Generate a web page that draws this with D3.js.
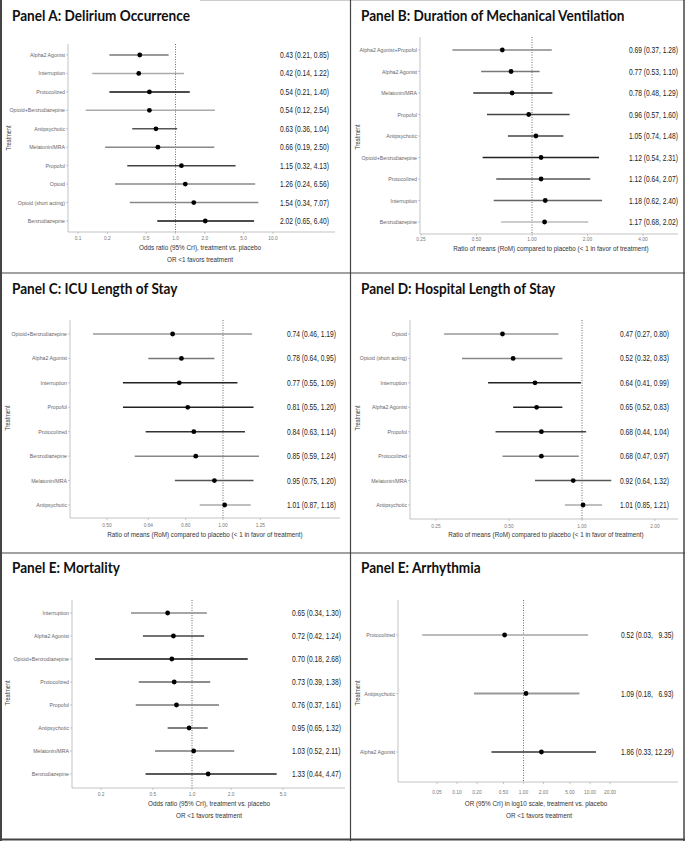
<!DOCTYPE html>
<html><head><meta charset="utf-8">
<script src="https://cdn.jsdelivr.net/npm/d3@7"></script>
<style>body{margin:0;background:#fff}svg{display:block}</style>
</head><body><svg id="c" width="685" height="841"></svg>
<script>
// ---------- DATA ----------
const treatA = ["Alpha2 Agonist","Interruption","Protocolized","Opioid+Benzodiazepine","Antipsychotic","Melatonin/MRA","Propofol","Opioid","Opioid (short acting)","Benzodiazepine"];
const estA = [0.43,0.42,0.54,0.54,0.63,0.66,1.15,1.26,1.54,2.02];
const lowA = [0.21,0.14,0.21,0.12,0.36,0.19,0.32,0.24,0.34,0.65];
const highA = [0.85,1.22,1.40,2.54,1.04,2.50,4.13,6.56,7.07,6.40];
const ticksA = [0.1,0.2,0.5,1.0,2.0,5.0,10.0];
const tickLabA = ["0.1","0.2","0.5","1.0","2.0","5.0","10.0"];

const treatB = ["Alpha2 Agonist+Propofol","Alpha2 Agonist","Melatonin/MRA","Propofol","Antipsychotic","Opioid+Benzodiazepine","Protocolized","Interruption","Benzodiazepine"];
const estB = [0.69,0.77,0.78,0.96,1.05,1.12,1.12,1.18,1.17];
const lowB = [0.37,0.53,0.48,0.57,0.74,0.54,0.64,0.62,0.68];
const highB = [1.28,1.10,1.29,1.60,1.48,2.31,2.07,2.40,2.02];
const ticksB = [0.25,0.5,1,2,4];
const tickLabB = ["0.25","0.50","1.00","2.00","4.00"];

const treatC = ["Opioid+Benzodiazepine","Alpha2 Agonist","Interruption","Propofol","Protocolized","Benzodiazepine","Melatonin/MRA","Antipsychotic"];
const estC = [0.74,0.78,0.77,0.81,0.84,0.85,0.95,1.01];
const lowC = [0.46,0.64,0.55,0.55,0.63,0.59,0.75,0.87];
const highC = [1.19,0.95,1.09,1.20,1.14,1.24,1.20,1.18];
const ticksC = [0.5,0.64,0.8,1.0,1.25];
const tickLabC = ["0.50","0.64","0.80","1.00","1.25"];

const treatD = ["Opioid","Opioid (short acting)","Interruption","Alpha2 Agonist","Propofol","Protocolized","Melatonin/MRA","Antipsychotic"];
const estD = [0.47,0.52,0.64,0.65,0.68,0.68,0.92,1.01];
const lowD = [0.27,0.32,0.41,0.52,0.44,0.47,0.64,0.85];
const highD = [0.80,0.83,0.99,0.83,1.04,0.97,1.32,1.21];
const ticksD = [0.25,0.5,1,2];
const tickLabD = ["0.25","0.50","1.00","2.00"];

const treatE = ["Interruption","Alpha2 Agonist","Opioid+Benzodiazepine","Protocolized","Propofol","Antipsychotic","Melatonin/MRA","Benzodiazepine"];
const estE = [0.65,0.72,0.70,0.73,0.76,0.95,1.03,1.33];
const lowE = [0.34,0.42,0.18,0.39,0.37,0.65,0.52,0.44];
const highE = [1.30,1.24,2.68,1.38,1.61,1.32,2.11,4.47];
const ticksE = [0.2,0.5,1,2,5];
const tickLabE = ["0.2","0.5","1.0","2.0","5.0"];

const treatF = ["Protocolized","Antipsychotic","Alpha2 Agonist"];
const estF = [0.52,1.09,1.86];
const lowF = [0.03,0.18,0.33];
const highF = [9.35,6.93,12.29];
const ticksF = [0.05,0.1,0.2,0.5,1,2,5,10,20];
const tickLabF = ["0.05","0.10","0.20","0.50","1.00","2.00","5.00","10.00","20.00"];

// line shades (style)
const shadeA = ["#777","#aaa","#111","#aaa","#555","#888","#444","#888","#888","#111"];
const shadeB = ["#888","#777","#333","#444","#444","#222","#555","#666","#bbb"];
const shadeC = ["#999","#777","#222","#222","#333","#888","#555","#aaa"];
const shadeD = ["#999","#888","#222","#222","#444","#888","#555","#aaa"];
const shadeE = ["#888","#444","#111","#666","#777","#555","#777","#222"];
const shadeF = ["#bbb","#999","#666"];

// ---------- LAYOUT ----------
const panels = [
 {title:"Panel A: Delirium Occurrence", cats:treatA, est:estA, lo:lowA, hi:highA, ticks:ticksA, tl:tickLabA, shade:shadeA,
  dom:[0.1,10], rng:[78,273], titleX:12, titleY:21, axisX:68, top:44, bottom:232, r0:55, r1:221, valX:280, tickY:240, axT:"Odds ratio (95% CrI), treatment vs. placebo", axTX:200, axTY:250, note:"OR <1 favors treatment", noteX:200, noteY:262, trX:8, trY:138, right:335, pad:false},
 {title:"Panel B: Duration of Mechanical Ventilation", cats:treatB, est:estB, lo:lowB, hi:highB, ticks:ticksB, tl:tickLabB, shade:shadeB,
  dom:[0.25,4], rng:[421,643], titleX:361, titleY:21, axisX:420, top:37, bottom:234, r0:50, r1:222, valX:629, tickY:241, axT:"Ratio of means (RoM) compared to placebo (< 1 in favor of treatment)", axTX:551, axTY:251, note:null, trX:357, trY:137, right:678, pad:false},
 {title:"Panel C: ICU Length of Stay", cats:treatC, est:estC, lo:lowC, hi:highC, ticks:ticksC, tl:tickLabC, shade:shadeC,
  dom:[0.5,1.0], rng:[107,223], titleX:12, titleY:294, axisX:70, top:320, bottom:518, r0:334, r1:505, valX:287, tickY:527, axT:"Ratio of means (RoM) compared to placebo (< 1 in favor of treatment)", axTX:205, axTY:537, note:null, trX:7, trY:418, right:340, pad:false},
 {title:"Panel D: Hospital Length of Stay", cats:treatD, est:estD, lo:lowD, hi:highD, ticks:ticksD, tl:tickLabD, shade:shadeD,
  dom:[0.25,2], rng:[436,655], titleX:361, titleY:294, axisX:410, top:320, bottom:519, r0:334, r1:505, valX:620, tickY:528, axT:"Ratio of means (RoM) compared to placebo (< 1 in favor of treatment)", axTX:546, axTY:537, note:null, trX:357, trY:418, right:678, pad:false},
 {title:"Panel E: Mortality", cats:treatE, est:estE, lo:lowE, hi:highE, ticks:ticksE, tl:tickLabE, shade:shadeE,
  dom:[0.2,5], rng:[101,283], titleX:12, titleY:573, axisX:72, top:600, bottom:788, r0:613, r1:774, valX:292, tickY:796, axT:"Odds ratio (95% CrI), treatment vs. placebo", axTX:209, axTY:806, note:"OR <1 favors treatment", noteX:209, noteY:818, trX:7, trY:693, right:345, pad:false},
 {title:"Panel E: Arrhythmia", cats:treatF, est:estF, lo:lowF, hi:highF, ticks:ticksF, tl:tickLabF, shade:shadeF,
  dom:[0.1,10], rng:[457,590], titleX:361, titleY:573, axisX:398, top:600, bottom:782, r0:635, r1:752, valX:621, tickY:794, axT:"OR (95% CrI) in log10 scale, treatment vs. placebo", axTX:536, axTY:806, note:"OR <1 favors treatment", noteX:539, noteY:818, trX:357, trY:693, right:678, pad:true}
];

const svg = d3.select("#c");
const FONT = "'Liberation Sans', Arial, sans-serif";
const TFONT = "Lato, 'Open Sans', sans-serif";

// horizontal compression via transform (keeps bounding boxes honest)
function squeeze(sel, k){
  sel.each(function(){
    const t = d3.select(this);
    const tr = t.attr("transform");
    const x = +t.attr("x") || 0, y = +t.attr("y") || 0;
    const base = tr ? tr : `translate(${x},${y})`;
    t.attr("x",0).attr("y",0).attr("transform", base + ` scale(${k},1)`);
  });
}
function measure(txt, size, weight, family){
  const t = svg.append("text").attr("font-family",family).attr("font-size",size).attr("font-weight",weight||"normal").text(txt);
  const w = t.node().getComputedTextLength(); t.remove(); return w;
}
const kTitle = 178 / measure("Panel A: Delirium Occurrence", 16, "bold", TFONT);
const kVal = 49 / measure("0.43 (0.21, 0.85)", 9, "normal", FONT);
const kRow = 35 / measure("Alpha2 Agonist", 6, "normal", FONT);
const kAx = 122 / measure("Odds ratio (95% CrI), treatment vs. placebo", 8, "normal", FONT);

const fmt = d3.format(".2f");

panels.forEach(p => {
  const g = svg.append("g");
  const x = d3.scaleLog().domain(p.dom).range(p.rng);
  const y = d3.scalePoint().domain(p.cats).range([p.r0, p.r1]);

  // title
  g.append("text").attr("x",p.titleX).attr("y",p.titleY).attr("font-family",TFONT)
    .attr("font-weight","bold").attr("font-size",16).attr("fill","#111").text(p.title).call(squeeze,kTitle);

  // axes lines
  g.append("line").attr("x1",p.axisX).attr("x2",p.axisX).attr("y1",p.top).attr("y2",p.bottom).attr("stroke","#aaa").attr("stroke-width",0.7);
  g.append("line").attr("x1",p.axisX).attr("x2",p.right).attr("y1",p.bottom).attr("y2",p.bottom).attr("stroke","#aaa").attr("stroke-width",0.7);

  // x ticks
  const xt = g.append("g").selectAll("g").data(p.ticks).join("g");
  xt.append("line").attr("x1",d=>x(d)).attr("x2",d=>x(d)).attr("y1",p.bottom).attr("y2",p.bottom+2).attr("stroke","#999").attr("stroke-width",0.5);
  xt.append("text").attr("x",d=>x(d)).attr("y",p.tickY).attr("text-anchor","middle").attr("font-family",FONT).attr("font-size",5.5)
    .attr("fill","#777").text((d,i)=>p.tl[i]).call(squeeze,kRow);

  // reference line
  g.append("line").attr("x1",x(1)).attr("x2",x(1)).attr("y1",p.top).attr("y2",p.bottom).attr("stroke","#444")
    .attr("stroke-width",0.8).attr("stroke-dasharray","1,1.5");

  // row labels + ticks
  const rows = g.append("g").selectAll("g").data(p.cats).join("g");
  rows.append("line").attr("x1",p.axisX-2).attr("x2",p.axisX).attr("y1",d=>y(d)).attr("y2",d=>y(d)).attr("stroke","#999").attr("stroke-width",0.5);
  rows.append("text").attr("x",p.axisX-3).attr("y",d=>y(d)+2).attr("text-anchor","end").attr("font-family",FONT).attr("font-size",6)
    .attr("fill","#666").text(d=>d).call(squeeze,kRow);

  // CI lines
  g.append("g").selectAll("line").data(p.cats).join("line")
    .attr("x1",(d,i)=>x(p.lo[i])).attr("x2",(d,i)=>x(p.hi[i])).attr("y1",d=>y(d)).attr("y2",d=>y(d))
    .attr("stroke",(d,i)=>p.shade[i]).attr("stroke-width",p.pad?1.8:1.5);
  // points
  g.append("g").selectAll("circle").data(p.cats).join("circle")
    .attr("cx",(d,i)=>x(p.est[i])).attr("cy",d=>y(d)).attr("r",2.4).attr("fill","#000");

  // value labels
  g.append("g").selectAll("text").data(p.cats).join("text")
    .attr("x",p.valX).attr("y",d=>y(d)+3).attr("font-family",FONT).attr("font-size",9).attr("fill","#222")
    .attr("xml:space","preserve").style("white-space","pre")
    .text((d,i)=> fmt(p.est[i])+" ("+fmt(p.lo[i])+", "+(p.pad? fmt(p.hi[i]).padStart(5," ").replace(/^ /,"  ") : fmt(p.hi[i]))+")")
    .call(squeeze,kVal);

  // axis title
  g.append("text").attr("x",p.axTX).attr("y",p.axTY).attr("text-anchor","middle").attr("font-family",FONT).attr("font-size",8)
    .attr("fill","#333").text(p.axT).call(squeeze,kAx);
  if(p.note) g.append("text").attr("x",p.noteX).attr("y",p.noteY).attr("text-anchor","middle").attr("font-family",FONT).attr("font-size",8)
    .attr("fill","#333").text(p.note).call(squeeze,kAx);

  // Treatment label
  g.append("text").attr("transform",`translate(${p.trX+3},${p.trY}) rotate(-90)`).attr("text-anchor","middle").attr("font-family",FONT)
    .attr("font-size",7).attr("fill","#444").text("Treatment").call(squeeze,kAx);
});

// borders
const B = "#444";
svg.append("line").attr("x1",200).attr("x2",685).attr("y1",0.5).attr("y2",0.5).attr("stroke","#ccc").attr("stroke-width",1);
svg.append("line").attr("x1",1).attr("x2",1).attr("y1",0).attr("y2",841).attr("stroke",B).attr("stroke-width",2);
svg.append("line").attr("x1",684).attr("x2",684).attr("y1",0).attr("y2",841).attr("stroke",B).attr("stroke-width",1.5);
svg.append("line").attr("x1",0).attr("x2",685).attr("y1",839.5).attr("y2",839.5).attr("stroke",B).attr("stroke-width",2);
svg.append("line").attr("x1",350.5).attr("x2",350.5).attr("y1",0).attr("y2",841).attr("stroke",B).attr("stroke-width",1.2);
svg.append("line").attr("x1",0).attr("x2",685).attr("y1",273).attr("y2",273).attr("stroke",B).attr("stroke-width",1.2);
svg.append("line").attr("x1",0).attr("x2",685).attr("y1",553).attr("y2",553).attr("stroke",B).attr("stroke-width",1.2);
</script></body></html>
